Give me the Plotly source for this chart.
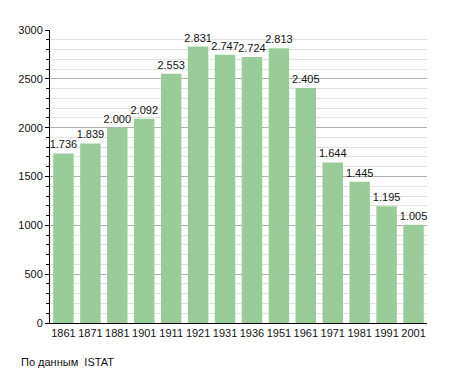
import plotly.graph_objects as go

years = ["1861", "1871", "1881", "1901", "1911", "1921", "1931", "1936", "1951", "1961", "1971", "1981", "1991", "2001"]
population = [1736, 1839, 2000, 2092, 2553, 2831, 2747, 2724, 2813, 2405, 1644, 1445, 1195, 1005]
labels = [f"{v:,}".replace(",", ".") for v in population]

fig = go.Figure(go.Bar(
    x=years, y=population, text=labels, textposition="outside",
    marker=dict(color="#99cc99", line=dict(width=0)),
    textfont=dict(size=11, color="#111"), cliponaxis=False,
    constraintext="none", hoverinfo="skip",
))

fig.update_layout(
    width=455, height=373,
    margin=dict(l=50, r=28, t=30, b=50),
    paper_bgcolor="white", plot_bgcolor="white",
    font=dict(family="Liberation Sans, Arial, sans-serif", size=11, color="#111"),
    bargap=0.24, showlegend=False,
    annotations=[dict(text="По данным  ISTAT", xref="x domain", yref="y domain",
                      x=-31/377, y=-39/293,
                      xanchor="left", yanchor="middle", showarrow=False,
                      font=dict(size=11, color="#111"))],
)

fig.update_xaxes(type="category", showline=True, linecolor="black", linewidth=1,
                 ticks="", showgrid=False, tickfont=dict(size=11), automargin=False,
                 minor=dict(ticks="", showgrid=False))
fig.update_yaxes(range=[0, 3000], dtick=500, showline=True, linecolor="black", linewidth=1,
                 ticks="outside", ticklen=4, tickcolor="black", showgrid=True,
                 gridcolor="#b0b0b0", gridwidth=1, zeroline=False,
                 tickfont=dict(size=11), automargin=False,
                 minor=dict(dtick=100, showgrid=True, gridcolor="#e2e2e2", ticks="outside",
                            ticklen=3, tickcolor="black"))

fig.write_html("out.html", config={"displayModeBar": False},
               post_script="document.body.style.margin='0';document.body.style.padding='0';")
